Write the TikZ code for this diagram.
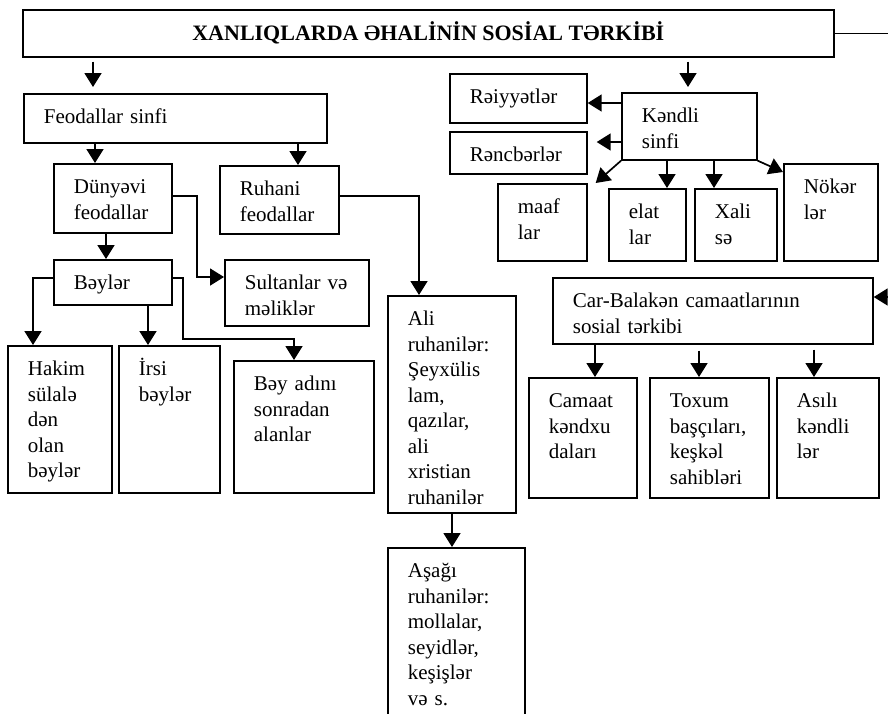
\documentclass[tikz,border=0pt]{standalone}
\usepackage{fontspec}
\setmainfont{Liberation Serif}
\usetikzlibrary{arrows.meta,calc}

\begin{document}
\begin{tikzpicture}[x=1pt,y=-1pt,
    blok/.style 2 args={draw, line width=1.7pt, anchor=north west, align=left,
        inner xsep=20pt, inner ysep=0pt, text width={#1pt-40pt},
        text height=30pt, text depth={#2pt-30pt},
        font=\fontsize{21}{25.5}\selectfont},
    titul/.style={draw, line width=1.7pt, anchor=north west, inner sep=0pt,
        minimum width=811pt, minimum height=47pt,
        font=\fontsize{22}{26}\selectfont\bfseries},
    pijl/.style={line width=1.7pt, -{Triangle[width=17pt,length=14pt]}}]
    \useasboundingbox[fill=white] (0,0) rectangle (888,713);

    % Baslik
    \node[titul] (titul) at (22,9) {XANLIQLARDA ƏHALİNİN SOSİAL TƏRKİBİ};

    % Feodallar sinfi
    \node[blok={303}{49}] (feod) at (23,93) {Feodallar sinfi};
    \node[blok={118}{69}] (dunya) at (53,163) {Dünyəvi\\feodallar};
    \node[blok={119}{68}] (ruhani) at (219,165) {Ruhani\\feodallar};
    \node[blok={118}{45}] (beyler) at (53,259) {Bəylər};
    \node[blok={144}{66}] (sultan) at (224,259) {Sultanlar və\\məliklər};
    \node[blok={104}{147}] (hakim) at (7,345) {Hakim\\sülalə\\dən\\olan\\bəylər};
    \node[blok={101}{147}] (irsi) at (118,345) {İrsi\\bəylər};
    \node[blok={140}{132}] (beyad) at (233,360) {Bəy adını\\sonradan\\alanlar};
    \node[blok={128}{217}] (ali) at (387,295) {Ali\\ruhanilər:\\Şeyxülis\\lam,\\qazılar,\\ali\\xristian\\ruhanilər};
    \node[blok={137}{175}] (asagi) at (387,547) {Aşağı\\ruhanilər:\\mollalar,\\seyidlər,\\keşişlər\\və s.};

    % Kendli sinfi
    \node[blok={137}{49}] (reiy) at (449,73) {Rəiyyətlər};
    \node[blok={137}{42}] (renc) at (449,131) {Rəncbərlər};
    \node[blok={135}{67}] (kendli) at (621,92) {Kəndli\\sinfi};
    \node[blok={89}{77}] (maaf) at (497,183) {maaf\\lar};
    \node[blok={77}{72}] (elat) at (608,188) {elat\\lar};
    \node[blok={82}{72}] (xali) at (694,188) {Xali\\sə};
    \node[blok={94}{97}] (noker) at (783,163) {Nökər\\lər};

    % Car-Balaken camaatlari
    \node[blok={320}{66}] (carb) at (552,277) {Car-Balakən camaatlarının\\sosial tərkibi};
    \node[blok={108}{120}] (camaat) at (528,377) {Camaat\\kəndxu\\daları};
    \node[blok={119}{120}] (toxum) at (649,377) {Toxum\\başçıları,\\keşkəl\\sahibləri};
    \node[blok={102}{120}] (asili) at (776,377) {Asılı\\kəndli\\lər};

    % Oxlar: sol tərəf
    \coordinate (f1) at ($(feod.north west)+(70,0)$);
    \draw[pijl, shorten <=4pt, shorten >=6pt] (titul.south -| f1) -- (f1);
    \coordinate (d1) at ($(dunya.north west)+(42,0)$);
    \draw[pijl] (feod.south -| d1) -- (d1);
    \coordinate (r1) at ($(ruhani.north west)+(79,0)$);
    \draw[pijl] (feod.south -| r1) -- (r1);
    \coordinate (b1) at ($(beyler.north west)+(53,0)$);
    \draw[pijl] (dunya.south -| b1) -- (b1);
    \draw[pijl] ($(dunya.north east)+(0,33)$) -| ($(sultan.north west)+(-27,18)$) -- ($(sultan.north west)+(0,18)$);
    \draw[pijl] ($(ruhani.north east)+(0,31)$) -| ($(ali.north west)+(32,0)$);
    \draw[pijl] ($(beyler.north west)+(0,19)$) -| ($(hakim.north west)+(26,0)$);
    \coordinate (i1) at ($(irsi.north west)+(30,0)$);
    \draw[pijl] (beyler.south -| i1) -- (i1);
    \draw[pijl] ($(beyler.north east)+(0,19)$) -| ($(beyad.north west)+(-50,-21)$) -| ($(beyad.north west)+(61,0)$);
    \coordinate (a1) at ($(asagi.north west)+(65,0)$);
    \draw[pijl] (ali.south -| a1) -- (a1);

    % Oxlar: sag tərəf
    \coordinate (k1) at ($(kendli.north west)+(67,0)$);
    \draw[pijl, shorten <=4pt, shorten >=5pt] (titul.south -| k1) -- (k1);
    \coordinate (k2) at ($(kendli.north west)+(0,11)$);
    \draw[pijl] (k2) -- (reiy.east |- k2);
    \coordinate (k3) at ($(kendli.north west)+(0,50)$);
    \draw[pijl, shorten >=9pt] (k3) -- (renc.east |- k3);
    \draw[pijl] (kendli.south west) -- ($(maaf.north east)+(8,0)$);
    \coordinate (e1) at ($(elat.north west)+(59,0)$);
    \draw[pijl] (kendli.south -| e1) -- (e1);
    \coordinate (x1) at ($(xali.north west)+(20,0)$);
    \draw[pijl] (kendli.south -| x1) -- (x1);
    \draw[pijl] (kendli.south east) -- ($(noker.north west)+(0,9)$);

    % Car-Balaken oxlari
    \coordinate (rand) at (898,297);
    \draw[pijl] (titul.east) -| (rand) -- (carb.east |- rand);
    \coordinate (c1) at ($(camaat.north west)+(67,0)$);
    \draw[pijl] (carb.south -| c1) -- (c1);
    \coordinate (c2) at ($(toxum.north west)+(50,0)$);
    \draw[pijl, shorten <=6pt] (carb.south -| c2) -- (c2);
    \coordinate (c3) at ($(asili.north west)+(38,0)$);
    \draw[pijl, shorten <=5pt] (carb.south -| c3) -- (c3);
\end{tikzpicture}
\end{document}
